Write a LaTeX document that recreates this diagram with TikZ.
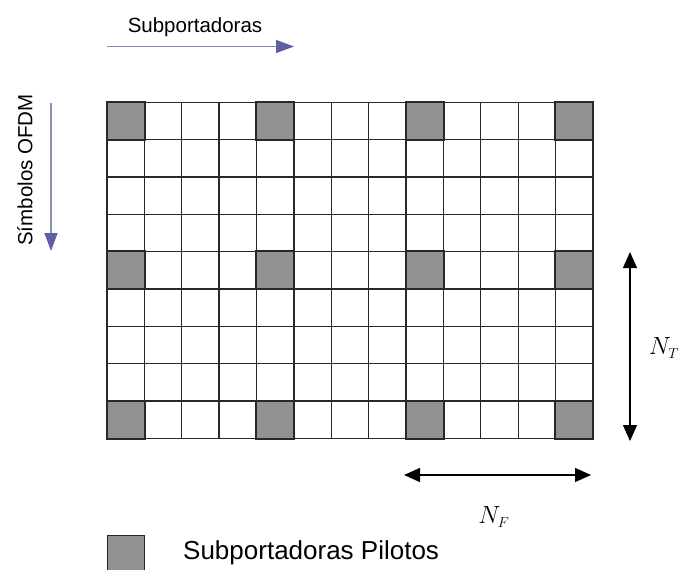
\documentclass[tikz,border=0pt]{standalone}
\usepackage{fontspec}
\setmainfont{Liberation Sans}
\usetikzlibrary{arrows.meta}
\definecolor{gridline}{RGB}{40,40,40}
\definecolor{pilotgray}{RGB}{146,146,146}
\definecolor{lavline}{RGB}{140,140,185}
\definecolor{lavhead}{RGB}{95,95,165}
\tikzset{
  cell/.style={draw=gridline,line width=1.3pt,minimum width=37.38pt,minimum height=37.3pt,inner sep=0pt,fill=white},
  pilot/.style={cell,fill=pilotgray},
  lavarrow/.style={draw=lavline,line width=1.4pt,-{Triangle[length=18pt,width=13pt,fill=lavhead,color=lavhead]}},
  dimarrow/.style={draw=black,line width=1.3pt,{Triangle[length=16pt,width=14pt]}-{Triangle[length=16pt,width=14pt]}},
  lbl/.style={inner sep=0pt,font=\fontsize{20.5}{24}\selectfont},
  mathlbl/.style={inner sep=0pt,font=\fontsize{30}{34}\selectfont}
}
\begin{document}
\begin{tikzpicture}[x=1pt,y=-1pt]
\useasboundingbox (0,0) rectangle (683,570);
% grid
\foreach \r in {0,...,8}{
  \foreach \c in {0,...,12}{
    \pgfmathtruncatemacro{\pr}{mod(\r,4)}
    \pgfmathtruncatemacro{\pc}{mod(\c,4)}
    \pgfmathsetmacro{\xx}{107+37.38*\c+18.69}
    \pgfmathsetmacro{\yy}{102.5+37.3*\r+18.65}
    \ifnum\pr=0 \ifnum\pc=0
      \node[pilot] (c-\r-\c) at (\xx,\yy) {};
    \else
      \node[cell] (c-\r-\c) at (\xx,\yy) {};
    \fi\else
      \node[cell] (c-\r-\c) at (\xx,\yy) {};
    \fi
  }
}
% redraw pilots on top so borders are uniform
\foreach \r in {0,4,8}{\foreach \c in {0,4,8,12}{
  \draw[gridline,line width=1.3pt] (c-\r-\c.north west) rectangle (c-\r-\c.south east);
}}
% subcarrier arrow
\node[lbl] (sub) at (195,27) {Subportadoras};
\coordinate (subA) at (107,46.5);
\coordinate (subB) at (294,46.5);
\draw[lavarrow] (subA) -- (subB);
% OFDM symbol arrow
\node[lbl,rotate=90] (sym) at (25,170) {Símbolos OFDM};
\coordinate (symA) at (51,103);
\coordinate (symB) at (51,251);
\draw[lavarrow] (symA) -- (symB);
% N_T
\coordinate (ntA) at (630,252);
\coordinate (ntB) at (630,441);
\draw[dimarrow] (ntA) -- (ntB);
\node[mathlbl] (nt) at (664,348) {$N_{\scriptscriptstyle T}$};
% N_F
\coordinate (nfA) at (404,475);
\coordinate (nfB) at (591,475);
\draw[dimarrow] (nfA) -- (nfB);
\node[mathlbl] (nf) at (494,517) {$N_{\scriptscriptstyle F}$};
% legend
\node[pilot,minimum width=37pt,minimum height=36pt,line width=1pt] (leg) at (125.5,553) {};
\node[inner sep=0pt,anchor=west,font=\fontsize{26}{30}\selectfont] (legtxt) at (183,553) {Subportadoras Pilotos};
\end{tikzpicture}
\end{document}
